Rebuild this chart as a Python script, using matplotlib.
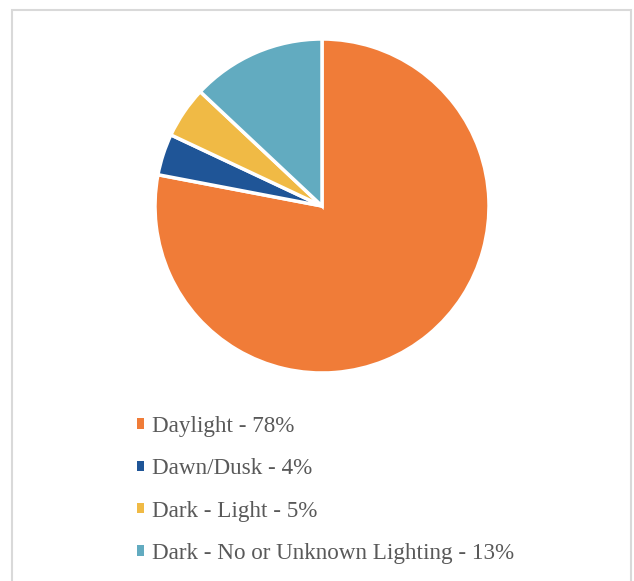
import matplotlib
matplotlib.use("Agg")
import matplotlib.pyplot as plt
from matplotlib.patches import Rectangle

categories = ["Daylight", "Dawn/Dusk", "Dark - Light", "Dark - No or Unknown Lighting"]
values = [78, 4, 5, 13]
colors = ["#F07C38", "#1F5597", "#F0BA45", "#62ABC0"]
labels = [f"{c} - {v}%" for c, v in zip(categories, values)]

W, H = 634, 581
fig = plt.figure(figsize=(W / 100, H / 100), dpi=100)
fig.patch.set_facecolor("white")

# outer frame (open at the bottom)
fig.add_artist(Rectangle((12 / W, -0.05), (631 - 12) / W, 1.05 - 10 / H, transform=fig.transFigure,
                         fill=False, edgecolor="#D9D9D9", linewidth=1.5, clip_on=False))

cx, cy, r = 322, 206, 167
ax = fig.add_axes([(cx - r) / W, 1 - (cy + r) / H, 2 * r / W, 2 * r / H])
wedges, _ = ax.pie(values, colors=colors, startangle=90, counterclock=False,
                   radius=1.0, wedgeprops=dict(edgecolor="white", linewidth=2.5))
ax.set_xlim(-1.0, 1.0)
ax.set_ylim(-1.0, 1.0)
ax.set_aspect("equal")
ax.axis("off")

leg = fig.legend(wedges, labels, loc="upper left", bbox_to_anchor=(116 / W, 1 - 395 / H),
                 frameon=False, labelspacing=0.92, handlelength=0.3,
                 handleheight=0.3, handletextpad=0.35,
                 prop=dict(family="Liberation Serif", size=16.7))
for t in leg.get_texts():
    t.set_color("#595959")
for h in leg.legend_handles:
    h.set_edgecolor("none")

fig.savefig("out.png", dpi=100)
